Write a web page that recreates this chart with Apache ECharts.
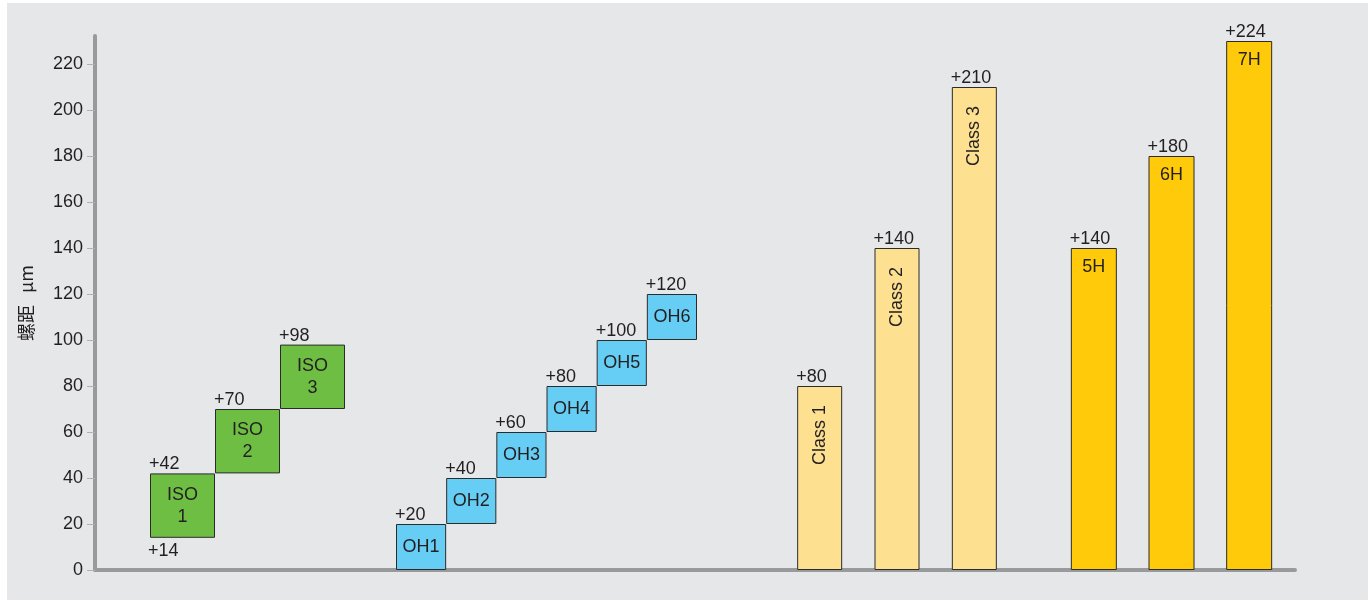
<!DOCTYPE html>
<html>
<head>
<meta charset="utf-8">
<script src="https://cdn.jsdelivr.net/npm/echarts@6/dist/echarts.min.js"></script>
<style>
html,body{margin:0;padding:0;background:#fff;}
#bg{position:absolute;left:7px;top:3px;width:1361px;height:597px;background:#e6e7e9;}
#chart{position:absolute;left:0;top:0;width:1372px;height:600px;}
</style>
</head>
<body>
<div id="bg"></div>
<div id="chart"></div>
<script>
// ---- data ----
const yTickMax = 220;
const yTickStep = 20;
const yName = '螺距   μm';

const isoCats = ['ISO\n1', 'ISO\n2', 'ISO\n3'];
const isoLow = [14, 42, 70];
const isoHigh = [42, 70, 98];
const isoTopLabels = ['+42', '+70', '+98'];
const isoLowLabels = ['+14', '', ''];

const ohCats = ['OH1', 'OH2', 'OH3', 'OH4', 'OH5', 'OH6'];
const ohLow = [0, 20, 40, 60, 80, 100];
const ohHigh = [20, 40, 60, 80, 100, 120];
const ohTopLabels = ['+20', '+40', '+60', '+80', '+100', '+120'];

const classCats = ['Class 1', 'Class 2', 'Class 3'];
const classHigh = [80, 140, 210];
const classTopLabels = ['+80', '+140', '+210'];

const hCats = ['5H', '6H', '7H'];
const hHigh = [140, 180, 230];
const hTopLabels = ['+140', '+180', '+224'];

// ---- chart ----
const FONT = 'Liberation Sans, Arial, sans-serif';
const TXT = '#231f20';
const YMAX = 230;
const BOTTOM = 30;          // pixel distance of value 0 from the bottom
const PX = 2.3;             // pixels per unit
const ZERO_Y = 600 - BOTTOM;
const topFor = v => ZERO_Y - v * PX;
const AXIS_TOP = 36;
const axisMax = (ZERO_Y - AXIS_TOP) / PX;

const groups = [
  {cats: isoCats, low: isoLow, high: isoHigh, top: isoTopLabels, lowLabels: isoLowLabels,
   left: 150, width: 195, barWidth: '100%', color: '#6fbe44', kind: 'iso'},
  {cats: ohCats, low: ohLow, high: ohHigh, top: ohTopLabels,
   left: 396, width: 301, barWidth: '100%', color: '#66cef5', kind: 'oh'},
  {cats: classCats, low: classCats.map(() => 0), high: classHigh, top: classTopLabels,
   left: 781, width: 232, barWidth: 45, color: '#fee190', kind: 'class'},
  {cats: hCats, low: hCats.map(() => 0), high: hHigh, top: hTopLabels,
   left: 1055, width: 233, barWidth: 46, color: '#ffca0a', kind: 'h'}
];

// grid 0: axis lines; grid 1: ticks & labels
const grid = [
  {left: 95, right: 77, top: AXIS_TOP, bottom: BOTTOM},
  {left: 95, right: 77, top: topFor(yTickMax), bottom: BOTTOM}
];
const xAxis = [
  {type: 'value', gridIndex: 0, min: 0, max: 1,
   axisLine: {show: true, lineStyle: {color: '#999a9c', width: 4}},
   axisTick: {show: false}, axisLabel: {show: false}, splitLine: {show: false}},
  {type: 'value', gridIndex: 1, min: 0, max: 1, show: false}
];
const yAxis = [
  {type: 'value', gridIndex: 0, min: 0, max: axisMax,
   name: yName, nameLocation: 'middle', nameRotate: 90, nameGap: 60,
   nameTextStyle: {fontFamily: 'Noto Sans CJK SC, ' + FONT, fontSize: 18, color: TXT},
   axisLine: {show: true, lineStyle: {color: '#999a9c', width: 4}},
   axisTick: {show: false}, axisLabel: {show: false}, splitLine: {show: false}},
  {type: 'value', gridIndex: 1, min: 0, max: yTickMax, interval: yTickStep,
   axisLine: {show: false},
   axisTick: {show: true, length: 8, lineStyle: {color: '#b0b1b3', width: 1}},
   axisLabel: {fontFamily: FONT, fontSize: 18, color: TXT, margin: 12},
   splitLine: {show: false}}
];
const series = [];

groups.forEach((g, i) => {
  const gi = i + 2;
  grid.push({left: g.left, width: g.width, top: topFor(YMAX), bottom: BOTTOM});
  xAxis.push({type: 'category', gridIndex: gi, data: g.cats, show: false});
  yAxis.push({type: 'value', gridIndex: gi, min: 0, max: YMAX, show: false});
  const stack = 's' + gi;
  // transparent base
  series.push({
    type: 'bar', xAxisIndex: gi, yAxisIndex: gi, stack: stack, barWidth: g.barWidth,
    data: g.low, itemStyle: {color: 'rgba(0,0,0,0)'}, silent: true,
    label: {show: !!g.lowLabels, position: [-2, 4], align: 'left', verticalAlign: 'top',
      fontFamily: FONT, fontSize: 18, color: TXT,
      formatter: p => (g.lowLabels ? g.lowLabels[p.dataIndex] : '')}
  });
  // visible box
  let boxLabel;
  if (g.kind === 'iso') {
    boxLabel = {show: true, position: 'inside', fontFamily: FONT, fontSize: 18, color: TXT, lineHeight: 22,
      formatter: p => g.cats[p.dataIndex]};
  } else if (g.kind === 'oh') {
    boxLabel = {show: true, position: 'inside', fontFamily: FONT, fontSize: 18, color: TXT,
      formatter: p => g.cats[p.dataIndex]};
  } else if (g.kind === 'class') {
    boxLabel = {show: true, position: 'insideTop', distance: 19, rotate: 90, align: 'right', verticalAlign: 'middle',
      fontFamily: FONT, fontSize: 18, color: TXT, formatter: p => g.cats[p.dataIndex]};
  } else {
    boxLabel = {show: true, position: 'insideTop', distance: 10, fontFamily: FONT, fontSize: 18, color: TXT,
      formatter: p => g.cats[p.dataIndex]};
  }
  series.push({
    type: 'bar', xAxisIndex: gi, yAxisIndex: gi, stack: stack, barWidth: g.barWidth,
    data: g.high.map((h, k) => h - g.low[k]),
    itemStyle: {color: g.color, borderColor: '#2b2b2b', borderWidth: 1},
    label: boxLabel
  });
  // zero-height cap carrying the top value label
  series.push({
    type: 'bar', xAxisIndex: gi, yAxisIndex: gi, stack: stack, barWidth: g.barWidth,
    data: g.high.map(() => 0), itemStyle: {color: 'rgba(0,0,0,0)'},
    label: {show: true, position: [-1, 0], align: 'left', verticalAlign: 'bottom',
      fontFamily: FONT, fontSize: 18, color: TXT,
      formatter: p => g.top[p.dataIndex]}
  });
});

const chart = echarts.init(document.getElementById('chart'), null, {renderer: 'canvas'});
chart.setOption({
  animation: false,
  backgroundColor: 'transparent',
  grid: grid, xAxis: xAxis, yAxis: yAxis, series: series
});
</script>
</body>
</html>
